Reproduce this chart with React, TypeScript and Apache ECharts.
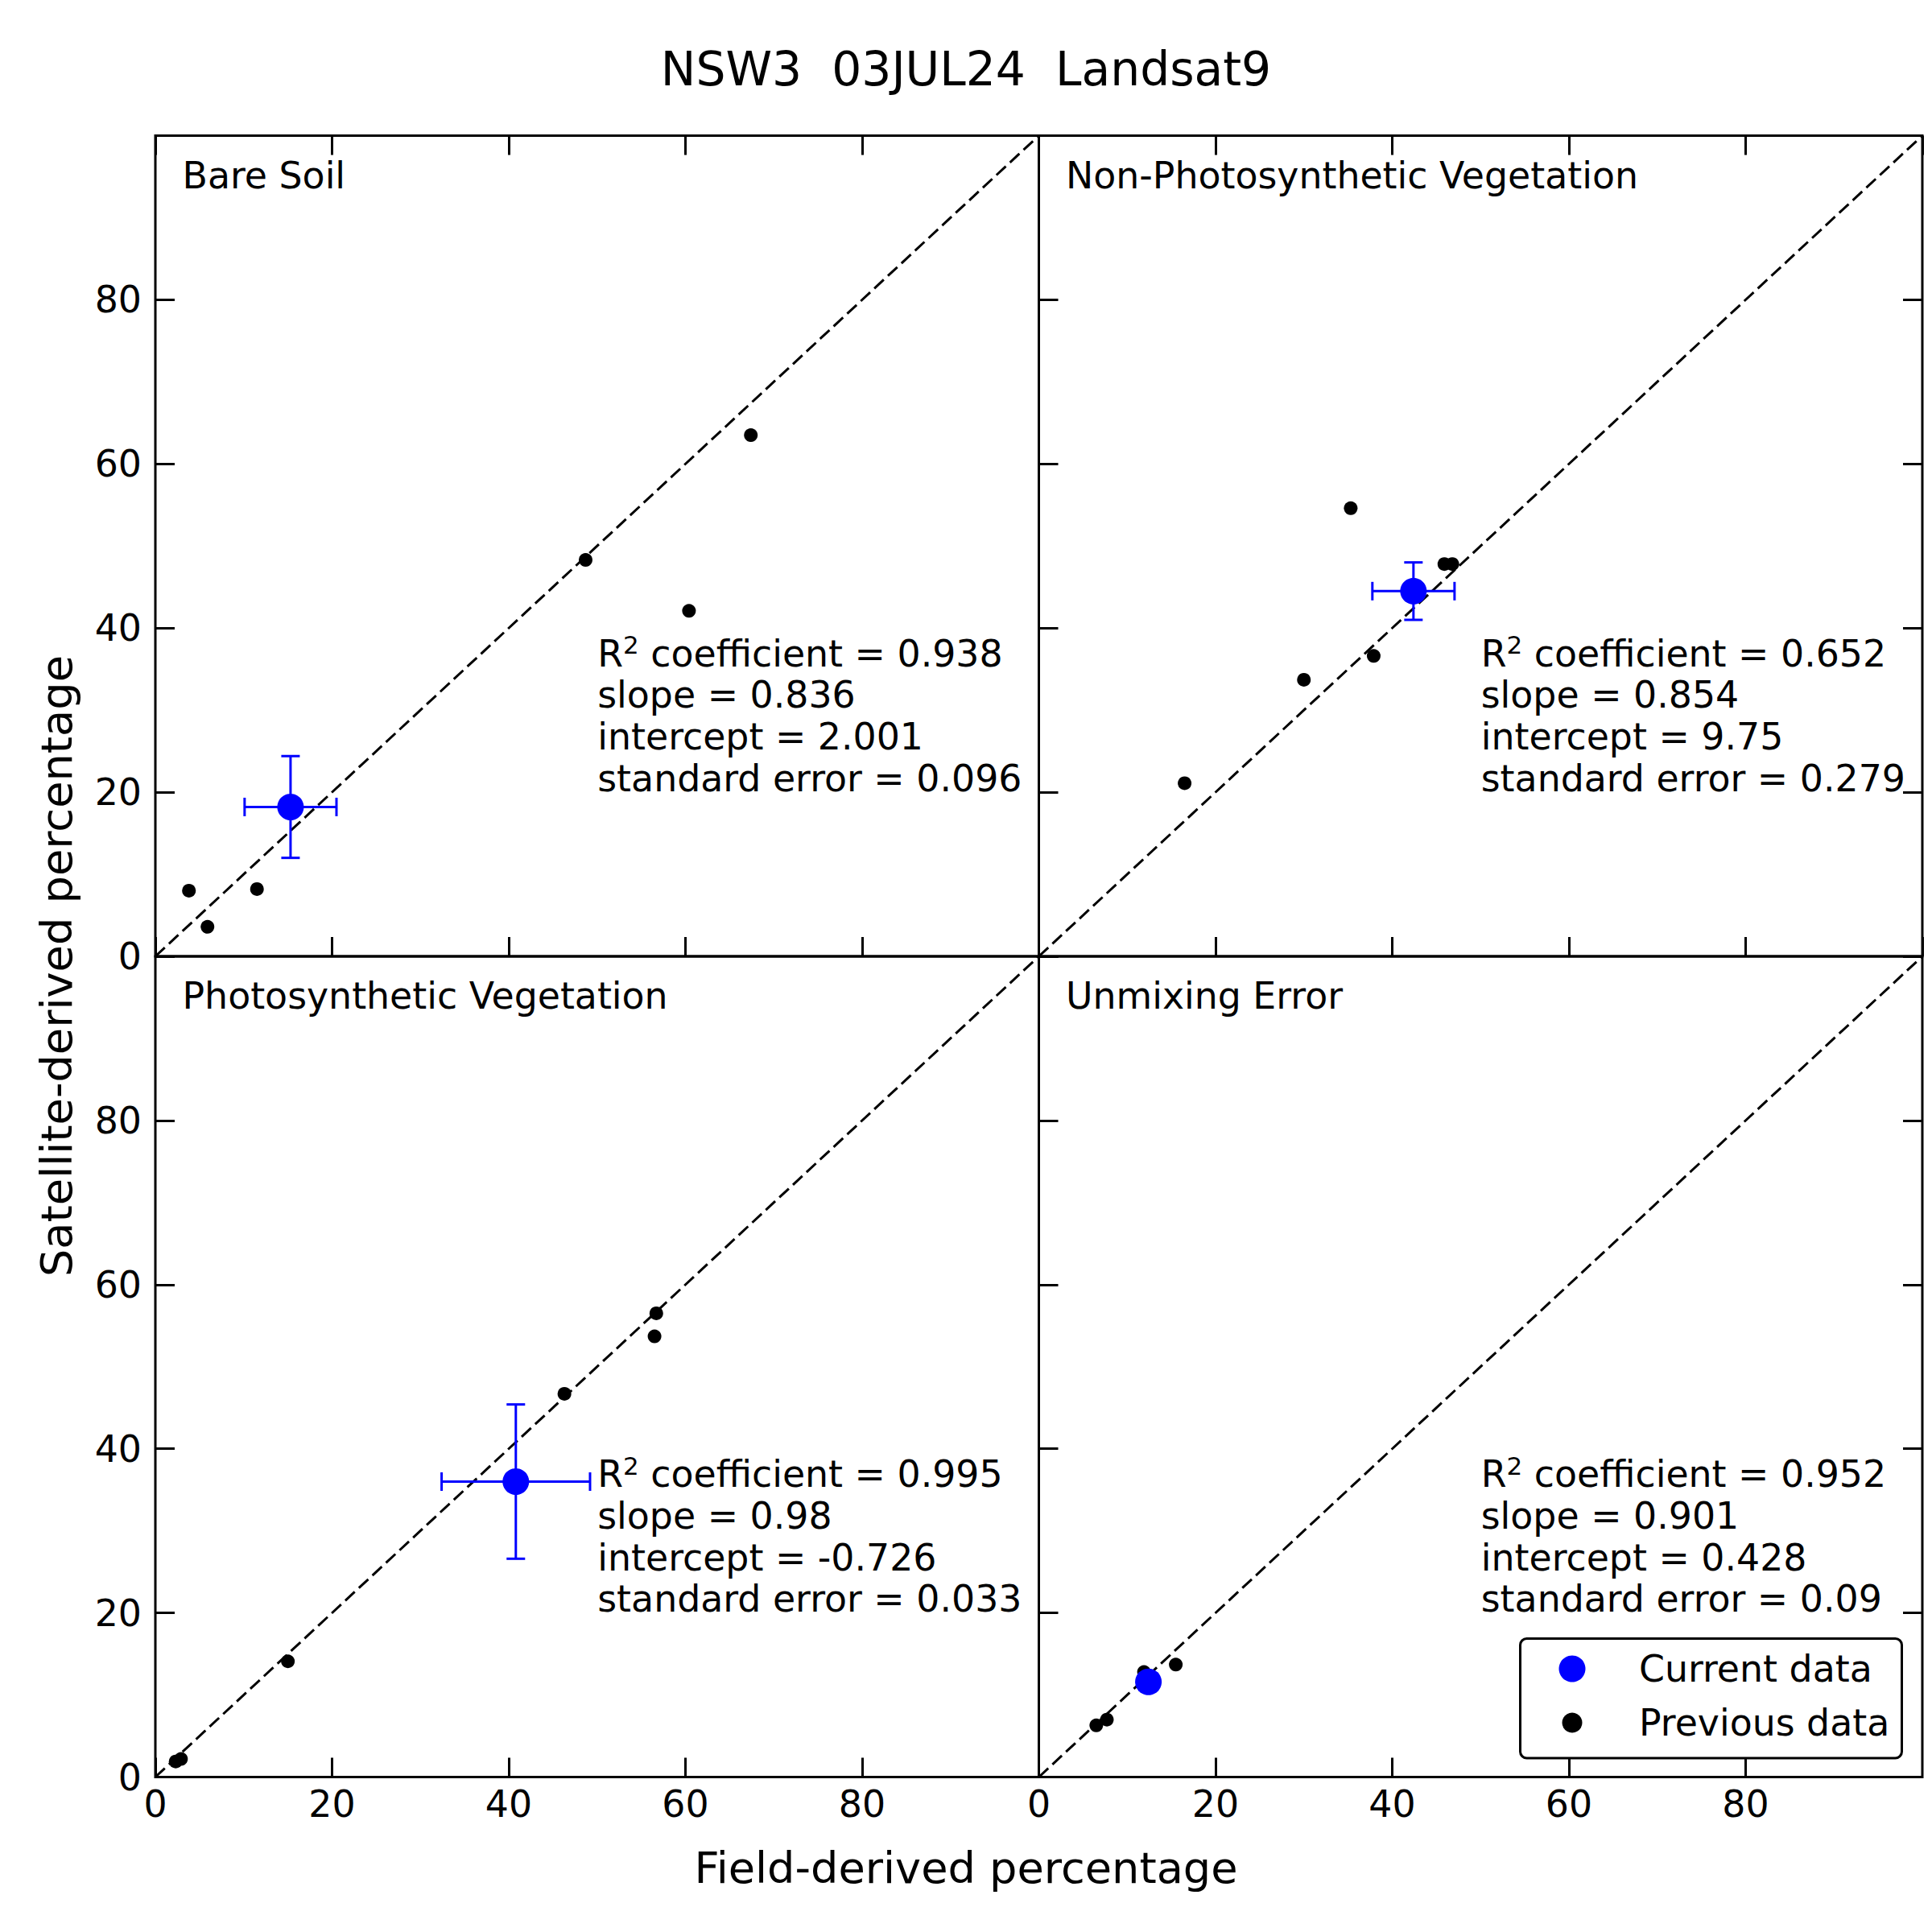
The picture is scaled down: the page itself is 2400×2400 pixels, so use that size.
import React, { useEffect, useRef } from "react";
import * as echarts from "echarts";

// ---------- text ----------
const figureTitle = "NSW3  03JUL24  Landsat9";
const xAxisTitle = "Field-derived percentage";
const yAxisTitle = "Satellite-derived percentage";
const panelNames = [
  "Bare Soil",
  "Non-Photosynthetic Vegetation",
  "Photosynthetic Vegetation",
  "Unmixing Error",
];
const legendNames = ["Current data", "Previous data"];

// ---------- previous field/satellite pairs, per panel ----------
const bareSoilPrevX = [3.8, 5.9, 11.5, 48.7, 60.4, 67.4];
const bareSoilPrevY = [8.0, 3.6, 8.2, 48.3, 42.1, 63.5];
const npvPrevX = [16.5, 30.0, 35.3, 37.9, 45.9, 46.8];
const npvPrevY = [21.1, 33.7, 54.6, 36.6, 47.8, 47.8];
const pvPrevX = [2.3, 2.9, 15.0, 46.3, 56.5, 56.7];
const pvPrevY = [1.9, 2.2, 14.1, 46.7, 53.7, 56.5];
const unmixPrevX = [6.5, 7.7, 11.9, 15.5];
const unmixPrevY = [6.3, 7.0, 12.8, 13.7];

// ---------- current observation with its uncertainty, per panel ----------
const currentX = [15.3, 42.4, 40.8, 12.4];
const currentY = [18.2, 44.5, 36.0, 11.6];
const currentXErr = [5.2, 4.65, 8.4, 1.0];
const currentYErr = [6.2, 3.5, 9.4, 1.0];

// ---------- regression statistics, per panel ----------
const r2Values = [0.938, 0.652, 0.995, 0.952];
const slopeValues = [0.836, 0.854, 0.98, 0.901];
const interceptValues = [2.001, 9.75, -0.726, 0.428];
const stdErrValues = [0.096, 0.279, 0.033, 0.09];

// ---------- axes ----------
const axisMin = 0;
const axisMax = 100;
const tickStep = 20;
const oneToOne = [
  [0, 0],
  [100, 100],
];

const prevX = [bareSoilPrevX, npvPrevX, pvPrevX, unmixPrevX];
const prevY = [bareSoilPrevY, npvPrevY, pvPrevY, unmixPrevY];

// ---------- layout ----------
const FONT = '"DejaVu Sans", "Liberation Sans", sans-serif';
const FS = 45.8;
const COL_LEFT = [193, 1290.5];
const ROW_TOP = [168.5, 1188];
const GRID_W = 1097.5;
const GRID_H = 1019.5;
const STATS_ANCHOR = [50, 29.3];
const BLUE = "#0000ff";

function statsText(i: number): string {
  return [
    `{a|R}{s|2}{a| coefficient = ${r2Values[i]}}`,
    `{a|slope = ${slopeValues[i]}}`,
    `{a|intercept = ${interceptValues[i]}}`,
    `{a|standard error = ${stdErrValues[i]}}`,
  ].join("\n");
}

function errorBarItem(params: any, api: any) {
  const x = api.value(0);
  const y = api.value(1);
  const xe = api.value(2);
  const ye = api.value(3);
  const l = api.coord([x - xe, y]);
  const r = api.coord([x + xe, y]);
  const b = api.coord([x, y - ye]);
  const t = api.coord([x, y + ye]);
  const cap = 11.5;
  const style = { stroke: BLUE, lineWidth: 3 };
  const seg = (x1: number, y1: number, x2: number, y2: number) => ({
    type: "line",
    shape: { x1, y1, x2, y2 },
    style,
  });
  return {
    type: "group",
    children: [
      seg(l[0], l[1], r[0], r[1]),
      seg(l[0], l[1] - cap, l[0], l[1] + cap),
      seg(r[0], r[1] - cap, r[0], r[1] + cap),
      seg(b[0], b[1], t[0], t[1]),
      seg(b[0] - cap, b[1], b[0] + cap, b[1]),
      seg(t[0] - cap, t[1], t[0] + cap, t[1]),
    ],
  };
}

function buildOption() {
  const grid: any[] = [];
  const xAxis: any[] = [];
  const yAxis: any[] = [];
  const series: any[] = [];
  const titles: any[] = [
    {
      text: figureTitle,
      left: "center",
      top: 57,
      padding: 0,
      textStyle: {
        fontFamily: FONT,
        fontSize: 58.3,
        fontWeight: "normal",
        color: "#000",
        lineHeight: 58,
      },
    },
  ];

  const tickStyle = { color: "#000", width: 3 };
  const labelStyle = {
    color: "#000",
    fontFamily: FONT,
    fontSize: FS,
    lineHeight: 46,
    showMaxLabel: false,
  };

  for (let i = 0; i < 4; i++) {
    const col = i % 2;
    const row = Math.floor(i / 2);
    grid.push({
      left: COL_LEFT[col],
      top: ROW_TOP[row],
      width: GRID_W,
      height: GRID_H,
      show: true,
      borderColor: "#000",
      borderWidth: 3,
      backgroundColor: "transparent",
      outerBoundsMode: "none",
    });

    const base = {
      type: "value",
      gridIndex: i,
      min: axisMin,
      max: axisMax,
      interval: tickStep,
      axisLine: { show: false, onZero: false },
      splitLine: { show: false },
    };
    xAxis.push({
      ...base,
      position: "bottom",
      axisTick: { show: true, inside: true, length: 24, lineStyle: tickStyle },
      axisLabel: { ...labelStyle, show: row === 1, margin: 10 },
    });
    xAxis.push({
      ...base,
      position: "top",
      axisTick: { show: row === 0, inside: true, length: 24, lineStyle: tickStyle },
      axisLabel: { show: false },
    });
    yAxis.push({
      ...base,
      position: "left",
      axisTick: { show: true, inside: true, length: 24, lineStyle: tickStyle },
      axisLabel: { ...labelStyle, show: col === 0, margin: 17 },
    });
    yAxis.push({
      ...base,
      position: "right",
      axisTick: { show: col === 1, inside: true, length: 24, lineStyle: tickStyle },
      axisLabel: { show: false },
    });

    const axes = { xAxisIndex: 2 * i, yAxisIndex: 2 * i };

    // 1:1 reference line
    series.push({
      type: "line",
      ...axes,
      data: oneToOne,
      showSymbol: false,
      silent: true,
      z: 2,
      lineStyle: { color: "#000", width: 3, type: [16, 7] },
    });

    // earlier observations
    series.push({
      type: "scatter",
      name: legendNames[1],
      ...axes,
      data: prevX[i].map((x, k) => [x, prevY[i][k]]),
      symbol: "circle",
      symbolSize: 17,
      itemStyle: { color: "#000", opacity: 1 },
      z: 3,
    });

    // uncertainty of the current observation
    series.push({
      type: "custom",
      ...axes,
      data: [[currentX[i], currentY[i], currentXErr[i], currentYErr[i]]],
      encode: { x: 0, y: 1 },
      renderItem: errorBarItem,
      silent: true,
      z: 4,
    });

    // current observation
    series.push({
      type: "scatter",
      name: legendNames[0],
      ...axes,
      data: [[currentX[i], currentY[i]]],
      symbol: "circle",
      symbolSize: 33,
      itemStyle: { color: BLUE, opacity: 1 },
      z: 5,
    });

    // regression summary
    series.push({
      type: "scatter",
      ...axes,
      data: [STATS_ANCHOR],
      symbolSize: 1,
      itemStyle: { color: "rgba(0,0,0,0)", opacity: 1 },
      silent: true,
      z: 6,
      label: {
        show: true,
        position: "right",
        distance: 0,
        opacity: 1,
        formatter: statsText(i),
        color: "#000",
        rich: {
          a: { fontFamily: FONT, fontSize: FS, lineHeight: 51.7, color: "#000" },
          s: {
            fontFamily: FONT,
            fontSize: 31,
            lineHeight: 30,
            verticalAlign: "top",
            color: "#000",
          },
        },
      },
    });

    titles.push({
      text: panelNames[i],
      left: COL_LEFT[col] + 33.5,
      top: ROW_TOP[row] + 49 - 23,
      padding: 0,
      textStyle: {
        fontFamily: FONT,
        fontSize: FS,
        fontWeight: "normal",
        color: "#000",
        lineHeight: 46,
      },
    });
  }

  const legendText = {
    fontFamily: FONT,
    fontSize: FS,
    color: "#000",
    lineHeight: 46,
  };

  return {
    animation: false,
    backgroundColor: "#fff",
    title: titles,
    grid,
    xAxis,
    yAxis,
    series,
    legend: [
      {
        data: [legendNames[0]],
        icon: "circle",
        left: 1936.5,
        top: 2050,
        itemWidth: 33,
        itemHeight: 33,
        padding: 0,
        selectedMode: false,
        z: 6,
        itemStyle: { opacity: 1 },
        textStyle: { ...legendText, padding: [0, 0, 0, 61.5] },
      },
      {
        data: [legendNames[1]],
        icon: "circle",
        left: 1940.5,
        top: 2117,
        itemWidth: 25,
        itemHeight: 25,
        padding: 0,
        selectedMode: false,
        z: 6,
        itemStyle: { opacity: 1 },
        textStyle: { ...legendText, padding: [0, 0, 0, 65.5] },
      },
    ],
    graphic: [
      {
        type: "rect",
        z: 5,
        shape: { x: 1888.5, y: 2035.5, width: 474, height: 148.5, r: 8 },
        style: { fill: "#fff", stroke: "#000", lineWidth: 3 },
        silent: true,
      },
      {
        type: "text",
        x: 1200,
        y: 2320,
        style: {
          text: xAxisTitle,
          font: `54.2px ${FONT}`,
          fill: "#000",
          textAlign: "center",
          textVerticalAlign: "middle",
        },
        silent: true,
      },
      {
        type: "text",
        x: 70,
        y: 1200,
        rotation: Math.PI / 2,
        style: {
          text: yAxisTitle,
          font: `54.2px ${FONT}`,
          fill: "#000",
          textAlign: "center",
          textVerticalAlign: "middle",
        },
        silent: true,
      },
    ],
  };
}

export default function App() {
  const ref = useRef<HTMLDivElement>(null);
  useEffect(() => {
    document.body.style.margin = "0";
    const chart = echarts.init(ref.current as HTMLDivElement, null, {
      renderer: "svg",
      width: 2400,
      height: 2400,
    });
    chart.setOption(buildOption() as any);
    return () => chart.dispose();
  }, []);
  return (
    <div
      ref={ref}
      style={{ position: "absolute", left: 0, top: 0, width: 2400, height: 2400, background: "#fff" }}
    />
  );
}
